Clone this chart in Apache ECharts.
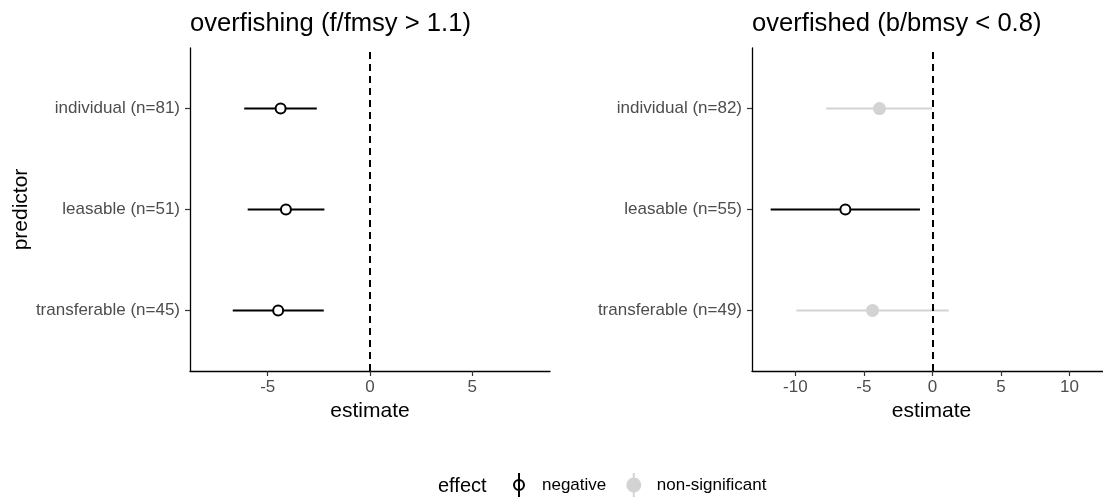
<!DOCTYPE html>
<html>
<head>
<meta charset="utf-8">
<script src="https://cdn.jsdelivr.net/npm/echarts@6/dist/echarts.min.js"></script>
<style>
html,body{margin:0;padding:0;background:#fff;}
#chart{width:1103px;height:497px;}
</style>
</head>
<body>
<div id="chart"></div>
<script>
// ---- data ----
const panelTitles = ['overfishing (f/fmsy > 1.1)', 'overfished (b/bmsy < 0.8)'];
const rowPositions = [1, 2, 3];
const leftLabels = ['transferable (n=45)', 'leasable (n=51)', 'individual (n=81)'];
const rightLabels = ['transferable (n=49)', 'leasable (n=55)', 'individual (n=82)'];
const leftEstimate = [-4.49, -4.11, -4.37];
const leftLow = [-6.71, -5.98, -6.15];
const leftHigh = [-2.26, -2.23, -2.60];
const leftEffect = ['negative', 'negative', 'negative'];
const rightEstimate = [-4.37, -6.35, -3.86];
const rightLow = [-9.92, -11.8, -7.74];
const rightHigh = [1.19, -0.91, -0.03];
const rightEffect = ['non-significant', 'negative', 'non-significant'];
const leftTicks = [-5, 0, 5];
const rightTicks = [-10, -5, 0, 5, 10];
const effects = ['negative', 'non-significant'];

const FONT = "'Liberation Sans', Arial, Helvetica, sans-serif";
const styles = {
  'negative': {line: '#000000', fill: '#ffffff', stroke: '#000000', r: 5, lw: 2},
  'non-significant': {line: '#d3d3d3', fill: '#d3d3d3', stroke: '#d3d3d3', r: 6.5, lw: 0}
};

function rows(low, high, est, eff, which) {
  const out = [];
  for (let i = 0; i < rowPositions.length; i++) {
    if (eff[i] === which) out.push([low[i], high[i], est[i], rowPositions[i]]);
  }
  return out;
}

function makeRender(eff) {
  const s = styles[eff];
  return function (params, api) {
    const y = api.value(3);
    const lo = api.coord([api.value(0), y]);
    const hi = api.coord([api.value(1), y]);
    const c = api.coord([api.value(2), y]);
    return {
      type: 'group',
      children: [
        {type: 'line', shape: {x1: lo[0], y1: lo[1], x2: hi[0], y2: hi[1]},
          style: {stroke: s.line, lineWidth: 2}},
        {type: 'circle', shape: {cx: c[0], cy: c[1], r: s.r},
          style: {fill: s.fill, stroke: s.stroke, lineWidth: s.lw}}
      ]
    };
  };
}

function xAxisFor(idx, min, max, ticks, namePad) {
  return {
    type: 'value', gridIndex: idx, min: min, max: max,
    name: 'estimate', nameLocation: 'middle', nameGap: 29,
    nameTextStyle: {color: '#000', fontSize: 21, fontFamily: FONT, padding: namePad},
    axisLine: {show: true, onZero: false, lineStyle: {color: '#000', width: 1.3}},
    axisTick: {show: true, length: 5, customValues: ticks, lineStyle: {color: '#333', width: 1.2}},
    axisLabel: {customValues: ticks, color: '#4d4d4d', fontSize: 17, fontFamily: FONT, margin: 8},
    splitLine: {show: false}
  };
}

function yAxisFor(idx, labels, withName) {
  return {
    type: 'value', gridIndex: idx, min: 0.4, max: 3.6,
    name: withName ? 'predictor' : '', nameLocation: 'middle', nameGap: 154,
    nameTextStyle: {color: '#000', fontSize: 21, fontFamily: FONT},
    axisLine: {show: true, onZero: false, lineStyle: {color: '#000', width: 1.3}},
    axisTick: {show: true, length: 5, customValues: rowPositions, lineStyle: {color: '#333', width: 1.2}},
    axisLabel: {customValues: rowPositions, color: '#4d4d4d', fontSize: 17, fontFamily: FONT, margin: 10,
      formatter: function (v) { return labels[Math.round(v) - 1]; }},
    splitLine: {show: false}
  };
}

function zeroLine(idx) {
  return {
    type: 'scatter', name: 'zero' + idx, xAxisIndex: idx, yAxisIndex: idx, data: [], silent: true,
    markLine: {silent: true, symbol: 'none', label: {show: false},
      lineStyle: {color: '#000', type: [7, 5], width: 2},
      data: [{xAxis: 0}]}
  };
}

const series = [];
series.push(zeroLine(0));
series.push(zeroLine(1));
[['left', 0, leftLow, leftHigh, leftEstimate, leftEffect], ['right', 1, rightLow, rightHigh, rightEstimate, rightEffect]]
  .forEach(function (p) {
    effects.forEach(function (eff) {
      series.push({
        type: 'custom', name: eff, xAxisIndex: p[1], yAxisIndex: p[1],
        renderItem: makeRender(eff),
        encode: {x: [0, 1, 2], y: 3},
        itemStyle: {color: styles[eff].line},
        data: rows(p[2], p[3], p[4], p[5], eff)
      });
    });
  });

const chart = echarts.init(document.getElementById('chart'), null, {renderer: 'canvas'});
chart.setOption({
  animation: false,
  backgroundColor: '#ffffff',
  title: [
    {text: panelTitles[0], left: 185, top: 6, textStyle: {fontSize: 25.6, fontWeight: 'normal', color: '#000', fontFamily: FONT}},
    {text: panelTitles[1], left: 747, top: 6, textStyle: {fontSize: 25.6, fontWeight: 'normal', color: '#000', fontFamily: FONT}},
    {text: 'effect', left: 433, top: 471, textStyle: {fontSize: 20, fontWeight: 'normal', color: '#000', fontFamily: FONT}}
  ],
  grid: [
    {left: 190, top: 48, width: 360, height: 323},
    {left: 752, top: 48, right: 0, height: 323}
  ],
  xAxis: [xAxisFor(0, -8.8, 8.8, leftTicks, [0, 0, 0, 0]), xAxisFor(1, -13.16, 12.44, rightTicks, [0, 0, 0, 8])],
  yAxis: [yAxisFor(0, leftLabels, true), yAxisFor(1, rightLabels, false)],
  legend: {
    left: 513, top: 472, orient: 'horizontal', padding: 0,
    itemWidth: 14, itemHeight: 24, itemGap: 20,
    selectedMode: false,
    textStyle: {fontSize: 17, color: '#000', fontFamily: FONT, padding: [0, 0, 0, 11]},
    data: [
      {name: 'negative', icon: 'path://M6,0 L6,24 M1,12 A5,5 0 1,1 11,12 A5,5 0 1,1 1,12 Z',
        itemStyle: {color: 'rgba(0,0,0,0)', borderColor: '#000', borderWidth: 2}},
      {name: 'non-significant', icon: 'path://M6.5,0 L6.5,24 M0,12 A6.5,6.5 0 1,1 13,12 A6.5,6.5 0 1,1 0,12 Z',
        itemStyle: {color: '#d3d3d3', borderColor: '#d3d3d3', borderWidth: 2}}
    ]
  },
  series: series
});
</script>
</body>
</html>
